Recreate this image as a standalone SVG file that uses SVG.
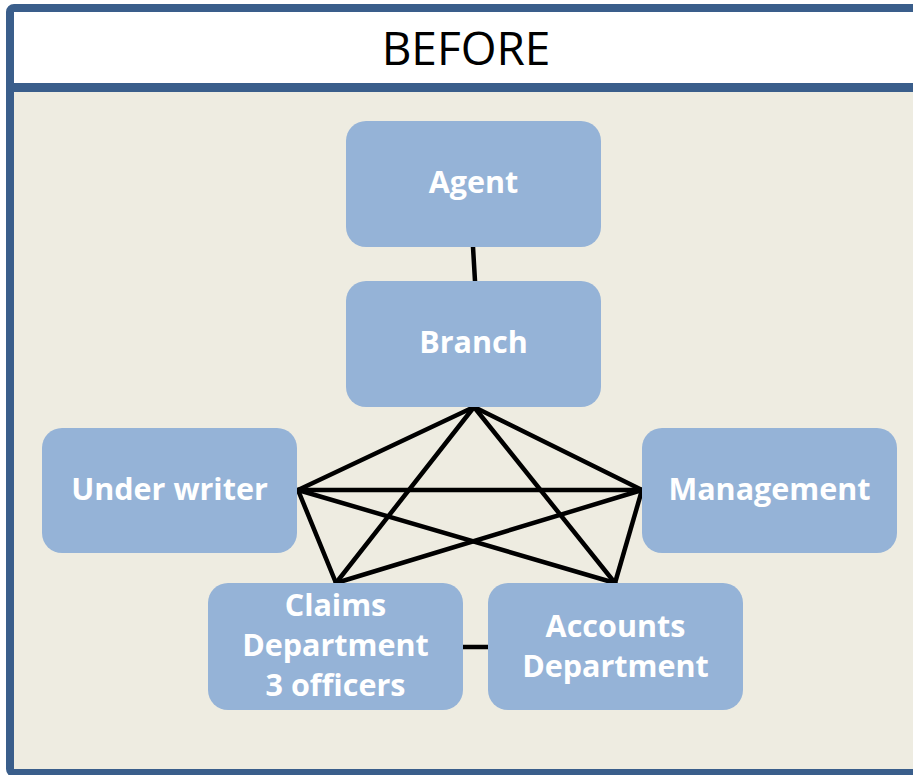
<svg xmlns="http://www.w3.org/2000/svg" width="913" height="775" viewBox="0 0 913 775">
<style>
.node rect{fill:#95B3D7;}
.node text{fill:#ffffff;font-family:"Open Sans","Liberation Sans",sans-serif;font-weight:bold;font-size:30.5px;text-anchor:middle;}
.conn line{stroke:#000;stroke-width:4.5;stroke-linecap:round;}
.title{fill:#000;font-family:"Open Sans","Liberation Sans",sans-serif;font-size:46px;text-anchor:middle;}
</style>
<rect x="0" y="0" width="913" height="775" fill="#ffffff"/>
<g id="frame">
<rect x="10" y="87.5" width="930" height="685.5" fill="#EEECE1"/>
<rect x="10" y="8" width="930" height="79.5" fill="#ffffff"/>
<rect x="10" y="8" width="930" height="765" rx="4" fill="none" stroke="#3A5E8B" stroke-width="8"/>
<line x1="10" y1="87.5" x2="940" y2="87.5" stroke="#3A5E8B" stroke-width="9"/>
<text class="title" x="466" y="65">BEFORE</text>
</g>
<g class="conn" id="connectors">
<line x1="473" y1="247" x2="475" y2="281"/>
<line x1="474" y1="407" x2="298" y2="490"/>
<line x1="474" y1="407" x2="642" y2="490"/>
<line x1="474" y1="407" x2="336" y2="583"/>
<line x1="474" y1="407" x2="615" y2="583"/>
<line x1="298" y1="490" x2="642" y2="490"/>
<line x1="298" y1="490" x2="336" y2="583"/>
<line x1="298" y1="490" x2="615" y2="583"/>
<line x1="642" y1="490" x2="336" y2="583"/>
<line x1="642" y1="490" x2="615" y2="583"/>
<line x1="463" y1="647" x2="488" y2="647"/>
</g>
<g class="node" id="agent">
<rect x="346" y="121" width="255" height="126" rx="20"/>
<text x="473.5" y="193">Agent</text>
</g>
<g class="node" id="branch">
<rect x="346" y="281" width="255" height="126" rx="20"/>
<text x="473.5" y="353">Branch</text>
</g>
<g class="node" id="underwriter">
<rect x="42" y="428" width="255" height="125" rx="20"/>
<text x="169.5" y="500">Under writer</text>
</g>
<g class="node" id="management">
<rect x="642" y="428" width="255" height="125" rx="20"/>
<text x="769.5" y="500">Management</text>
</g>
<g class="node" id="claims">
<rect x="208" y="583" width="255" height="127" rx="20"/>
<text x="335.5" y="616">Claims</text>
<text x="335.5" y="656">Department</text>
<text x="335.5" y="696">3 officers</text>
</g>
<g class="node" id="accounts">
<rect x="488" y="583" width="255" height="127" rx="20"/>
<text x="615.5" y="637">Accounts</text>
<text x="615.5" y="677">Department</text>
</g>
</svg>
